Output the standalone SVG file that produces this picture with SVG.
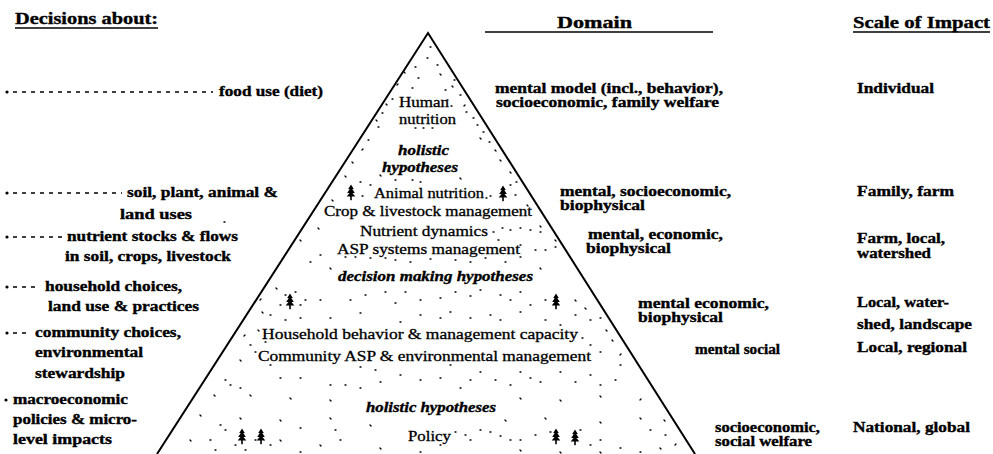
<svg xmlns="http://www.w3.org/2000/svg" xmlns:xlink="http://www.w3.org/1999/xlink" width="993" height="454" viewBox="0 0 993 454">
  <style>
    text { font-family: "Liberation Serif", "Times New Roman", serif; font-weight: bold; fill: #000; stroke: #000; stroke-width: 0.35px; }
    .hd { font-size: 16px; }
    .tx { font-size: 14px; }
    .rg { font-weight: normal; stroke-width: 0.3px; }
    .it { font-style: italic; }
    .ul { stroke: #000; stroke-width: 1.6; fill: none; }
    .lead { stroke: #000; stroke-width: 1.5; stroke-dasharray: 4 5; fill: none; }
    .edge { stroke: #000; stroke-width: 2; fill: none; stroke-linejoin: miter; }
    .spk { stroke: #000; stroke-width: 1.3; stroke-linecap: round; fill: none; }
  </style>
  <defs>
    <!-- small pine tree glyph, centred on its origin -->
    <g id="tree">
      <path d="M0,-7.5 L2.8,-3 L1.3,-3 L3.8,1 L1.5,1 L4.3,4.4 L-4.3,4.4 L-1.5,1 L-3.8,1 L-1.3,-3 L-2.8,-3 Z" fill="#000"/>
      <rect x="-0.8" y="4" width="1.6" height="4.2" fill="#000"/>
    </g>
  </defs>
  <rect width="993" height="454" fill="#fff"/>

  <!-- pyramid outline -->
  <g id="pyramid">
    <polyline class="edge" points="157,454 428,33 695,454"/>
    <!-- stippled fill -->
    <path class="spk" d="M430 47h1M427 58h1M415 67h1M437 65h1M418 78h1M454 80h1M412 88h1M445 90h1M460 95h1M392 99h1M447 100h1M451 106h1M382 113h1M466 112h1M473 118h1M477 125h1M415 128h1M423 128h1M432 128h1M378 127h1M483 132h1M368 140h1M489 142h1M360 182h1M370 185h1M362 196h1M395 180h1M412 180h1M420 182h1M486 198h1M490 196h1M510 185h1M515 195h1M516 182h1M493 232h1M502 228h1M510 230h1M520 228h1M530 230h1M540 232h1M498 240h1M520 245h1M555 247h1M535 250h1M545 250h1M320 255h1M310 262h1M345 257h1M355 257h1M370 258h1M385 258h1M395 260h1M410 262h1M430 259h1M455 260h1M470 262h1M485 258h1M505 262h1M520 257h1M285 295h1M295 292h1M300 305h1M305 300h1M280 305h1M320 300h1M350 300h1M365 295h1M385 292h1M395 303h1M405 292h1M420 300h1M440 298h1M455 292h1M470 296h1M480 290h1M500 295h1M510 300h1M520 292h1M530 305h1M545 300h1M270 315h1M285 320h1M300 318h1M330 318h1M360 313h1M400 322h1M420 315h1M440 318h1M450 312h1M470 318h1M490 315h1M500 320h1M520 312h1M545 320h1M560 325h1M575 315h1M590 320h1M600 318h1M250 345h1M255 352h1M265 342h1M582 338h1M590 345h1M600 352h1M270 365h1M280 378h1M300 378h1M330 385h1M345 385h1M360 388h1M380 382h1M360 367h1M375 370h1M400 375h1M420 380h1M440 378h1M450 365h1M460 388h1M470 380h1M480 372h1M495 380h1M510 385h1M520 372h1M530 378h1M540 382h1M560 372h1M575 382h1M590 375h1M600 385h1M615 380h1M620 365h1M230 385h1M225 380h1M240 388h1M220 425h1M225 430h1M210 440h1M215 450h1M235 445h1M245 450h1M255 440h1M270 445h1M300 428h1M335 430h1M340 440h1M300 452h1M455 432h1M465 435h1M470 440h1M480 430h1M490 432h1M500 436h1M510 440h1M520 440h1M535 435h1M550 432h1M580 430h1M590 445h1M600 440h1M620 448h1M650 430h1M665 435h1M640 452h1M440 445h1M420 452h1"/>
    <path class="spk" d="M404 72l1 1M440 74l1 1M398 84l-1 1M452 86l1 1M386 104l1 1M464 106l1 -1M376 120l1 1M480 138l1 1M362 150l1 -1M495 150l1 1M352 162l1 1M500 160l1 1M345 176l1 1M510 172l1 1M380 175l1 1M460 178l1 1M332 200l1 1M527 205l1 1M318 228l1 1M540 226l1 1M300 240l1 1M555 240l1 1M330 268l1 1M540 268l1 1M276 288l1 1M260 300l1 -1M262 312l1 1M575 300l1 1M585 308l1 1M258 330l1 1M244 336l1 -1M606 330l1 1M612 340l1 1M240 360l1 1M620 355l1 -1M214 395l1 1M250 395l1 1M290 398l1 1M330 400l1 1M520 398l1 1M560 400l1 1M600 396l1 1M640 400l1 -1M200 415l1 1M240 418l1 1M280 420l1 1M330 418l1 1M370 425l1 1M505 420l1 1M545 418l1 1M600 422l1 1M640 418l1 1M664 420l1 1M190 440l1 1M280 440l1 1M320 445l1 1M380 448l1 1M520 450l1 1M560 452l1 1M600 452l1 1M660 448l1 1M675 445l1 -1"/>
    <path class="spk" d="M224 222h1"/>
  </g>

  <!-- trees inside the pyramid -->
  <g id="trees">
    <use xlink:href="#tree" x="351" y="192"/>
    <use xlink:href="#tree" x="503" y="193"/>
    <use xlink:href="#tree" x="290" y="301"/>
    <use xlink:href="#tree" x="556" y="301"/>
    <use xlink:href="#tree" x="242" y="436"/>
    <use xlink:href="#tree" x="261" y="436"/>
    <use xlink:href="#tree" x="556" y="436"/>
    <use xlink:href="#tree" x="575" y="437"/>
  </g>

  <!-- column headings -->
  <g id="headings">
    <text class="hd" x="15" y="24" textLength="143" lengthAdjust="spacingAndGlyphs">Decisions about:</text>
    <line class="ul" x1="15" y1="28" x2="158" y2="28"/>
    <text class="hd" x="557" y="28" textLength="75" lengthAdjust="spacingAndGlyphs">Domain</text>
    <line class="ul" x1="485" y1="32" x2="713" y2="32"/>
    <text class="hd" x="853" y="28" textLength="137" lengthAdjust="spacingAndGlyphs">Scale of Impact</text>
    <line class="ul" x1="853" y1="32" x2="990" y2="32"/>
  </g>

  <!-- bullet leaders -->
  <g id="connectors">
    <circle cx="7" cy="92" r="1.6"/>
    <line class="lead" x1="13" y1="92" x2="213" y2="92"/>
    <circle cx="7" cy="193" r="1.6"/>
    <line class="lead" x1="13" y1="193" x2="122" y2="193"/>
    <circle cx="7" cy="237" r="1.6"/>
    <line class="lead" x1="13" y1="237" x2="62" y2="237"/>
    <circle cx="7" cy="287" r="1.6"/>
    <line class="lead" x1="13" y1="287" x2="40" y2="287"/>
    <circle cx="7" cy="333" r="1.6"/>
    <line class="lead" x1="13" y1="333" x2="31" y2="333"/>
    <circle cx="6" cy="400" r="1.6"/>
  </g>

  <!-- decisions -->
  <g id="d-food">
    <text class="tx" x="219" y="96" textLength="104" lengthAdjust="spacingAndGlyphs">food use (diet)</text>
  </g>
  <g id="d-land">
    <text class="tx" x="127" y="197" textLength="151" lengthAdjust="spacingAndGlyphs">soil, plant, animal &amp;</text>
    <text class="tx" x="120" y="219" textLength="72" lengthAdjust="spacingAndGlyphs">land uses</text>
  </g>
  <g id="d-nutrient">
    <text class="tx" x="67" y="241" textLength="171" lengthAdjust="spacingAndGlyphs">nutrient stocks &amp; flows</text>
    <text class="tx" x="65" y="261" textLength="166" lengthAdjust="spacingAndGlyphs">in soil, crops, livestock</text>
  </g>
  <g id="d-household">
    <text class="tx" x="45" y="291" textLength="137" lengthAdjust="spacingAndGlyphs">household choices,</text>
    <text class="tx" x="48" y="311" textLength="151" lengthAdjust="spacingAndGlyphs">land use &amp; practices</text>
  </g>
  <g id="d-community">
    <text class="tx" x="35" y="337" textLength="146" lengthAdjust="spacingAndGlyphs">community choices,</text>
    <text class="tx" x="35" y="357" textLength="108" lengthAdjust="spacingAndGlyphs">environmental</text>
    <text class="tx" x="35" y="378" textLength="90" lengthAdjust="spacingAndGlyphs">stewardship</text>
  </g>
  <g id="d-macro">
    <text class="tx" x="13" y="404" textLength="115" lengthAdjust="spacingAndGlyphs">macroeconomic</text>
    <text class="tx" x="13" y="424" textLength="124" lengthAdjust="spacingAndGlyphs">policies &amp; micro-</text>
    <text class="tx" x="13" y="444" textLength="99" lengthAdjust="spacingAndGlyphs">level impacts</text>
  </g>

  <!-- pyramid levels -->
  <g id="l-human">
    <text class="tx rg" x="399" y="107" textLength="50" lengthAdjust="spacingAndGlyphs">Human</text>
    <text class="tx rg" x="399" y="124" textLength="57" lengthAdjust="spacingAndGlyphs">nutrition</text>
  </g>
  <g id="h-holistic-top">
    <text class="tx it" x="398" y="155" textLength="51" lengthAdjust="spacingAndGlyphs">holistic</text>
    <text class="tx it" x="382" y="172" textLength="76" lengthAdjust="spacingAndGlyphs">hypotheses</text>
  </g>
  <g id="l-farm">
    <text class="tx rg" x="374" y="198" textLength="110" lengthAdjust="spacingAndGlyphs">Animal nutrition</text>
    <text class="tx rg" x="324" y="216" textLength="208" lengthAdjust="spacingAndGlyphs">Crop &amp; livestock management</text>
    <text class="tx rg" x="360" y="236" textLength="128" lengthAdjust="spacingAndGlyphs">Nutrient dynamics</text>
    <text class="tx rg" x="337" y="254" textLength="183" lengthAdjust="spacingAndGlyphs">ASP systems management</text>
  </g>
  <g id="h-decision">
    <text class="tx it" x="338" y="281" textLength="195" lengthAdjust="spacingAndGlyphs">decision making hypotheses</text>
  </g>
  <g id="l-community">
    <text class="tx rg" x="262" y="339" textLength="316" lengthAdjust="spacingAndGlyphs">Household behavior &amp; management capacity</text>
    <text class="tx rg" x="258" y="361" textLength="333" lengthAdjust="spacingAndGlyphs">Community ASP &amp; environmental management</text>
  </g>
  <g id="h-holistic-bottom">
    <text class="tx it" x="366" y="412" textLength="130" lengthAdjust="spacingAndGlyphs">holistic hypotheses</text>
  </g>
  <g id="l-policy">
    <text class="tx rg" x="408" y="441" textLength="43" lengthAdjust="spacingAndGlyphs">Policy</text>
  </g>

  <!-- domains -->
  <g id="dom-1">
    <text class="tx" x="495" y="93" textLength="228" lengthAdjust="spacingAndGlyphs">mental model (incl., behavior),</text>
    <text class="tx" x="496" y="107" textLength="223" lengthAdjust="spacingAndGlyphs">socioeconomic, family welfare</text>
  </g>
  <g id="dom-2">
    <text class="tx" x="560" y="196" textLength="171" lengthAdjust="spacingAndGlyphs">mental, socioeconomic,</text>
    <text class="tx" x="560" y="210" textLength="85" lengthAdjust="spacingAndGlyphs">biophysical</text>
  </g>
  <g id="dom-3">
    <text class="tx" x="588" y="239" textLength="135" lengthAdjust="spacingAndGlyphs">mental, economic,</text>
    <text class="tx" x="586" y="253" textLength="85" lengthAdjust="spacingAndGlyphs">biophysical</text>
  </g>
  <g id="dom-4">
    <text class="tx" x="638" y="308" textLength="131" lengthAdjust="spacingAndGlyphs">mental economic,</text>
    <text class="tx" x="638" y="322" textLength="85" lengthAdjust="spacingAndGlyphs">biophysical</text>
  </g>
  <g id="dom-5">
    <text class="tx" x="695" y="354" textLength="85" lengthAdjust="spacingAndGlyphs">mental social</text>
  </g>
  <g id="dom-6">
    <text class="tx" x="715" y="432" textLength="105" lengthAdjust="spacingAndGlyphs">socioeconomic,</text>
    <text class="tx" x="715" y="446" textLength="97" lengthAdjust="spacingAndGlyphs">social welfare</text>
  </g>

  <!-- scales of impact -->
  <g id="s-1"><text class="tx" x="857" y="93" textLength="77" lengthAdjust="spacingAndGlyphs">Individual</text></g>
  <g id="s-2"><text class="tx" x="857" y="196" textLength="97" lengthAdjust="spacingAndGlyphs">Family, farm</text></g>
  <g id="s-3">
    <text class="tx" x="857" y="243" textLength="88" lengthAdjust="spacingAndGlyphs">Farm, local,</text>
    <text class="tx" x="857" y="258" textLength="74" lengthAdjust="spacingAndGlyphs">watershed</text>
  </g>
  <g id="s-4">
    <text class="tx" x="857" y="307" textLength="92" lengthAdjust="spacingAndGlyphs">Local, water-</text>
    <text class="tx" x="857" y="329" textLength="115" lengthAdjust="spacingAndGlyphs">shed, landscape</text>
  </g>
  <g id="s-5"><text class="tx" x="857" y="352" textLength="110" lengthAdjust="spacingAndGlyphs">Local, regional</text></g>
  <g id="s-6"><text class="tx" x="853" y="432" textLength="117" lengthAdjust="spacingAndGlyphs">National, global</text></g>
</svg>
